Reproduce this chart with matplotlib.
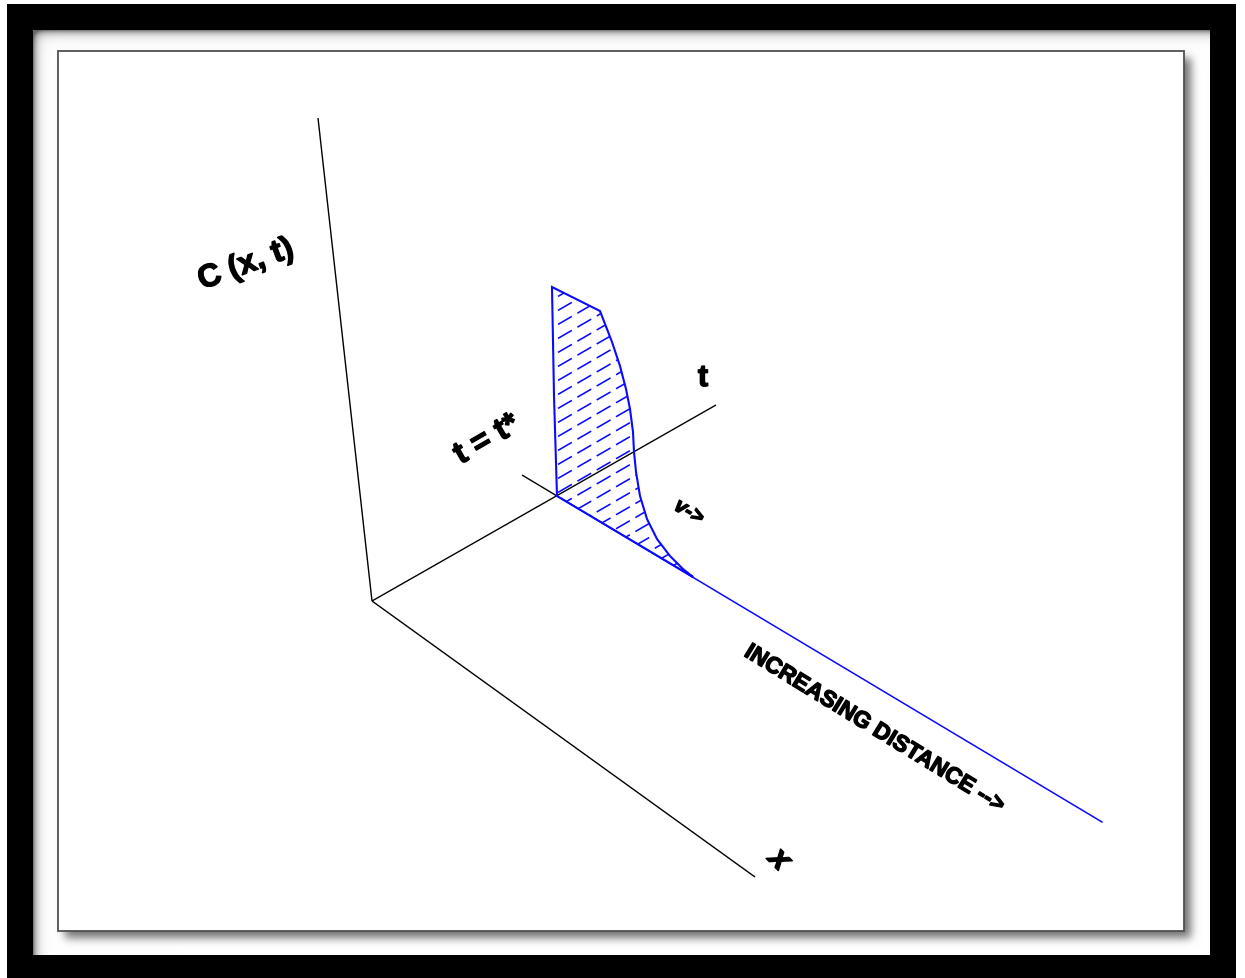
import numpy as np
import matplotlib
matplotlib.use("Agg")
import matplotlib.pyplot as plt
import matplotlib.patheffects as pe
from matplotlib.patches import Polygon, Rectangle

# Canvas size (pixels)
W, H = 1245, 979

# Axes of the sketch (pixel coordinates on the page)
origin = (372, 602)
c_axis_top = (318, 119)
t_axis_end = (716, 406)
x_axis_end = (755, 878)

# Line through the t = t* section: black stub, then the blue base line
section_stub_start = (522, 476)
section_base = (557, 497)
base_line_end = (1102, 823)

# Concentration profile at t = t* (outline of the shaded section)
profile_x = [557, 554, 552, 600, 612, 620, 626, 630, 633, 634, 636, 640, 647, 657, 670, 683, 693]
profile_y = [497, 397, 288, 312, 343, 367, 390, 410, 433, 453, 473, 497, 520, 540, 557, 570, 578]

# Hatching inside the section
hatch_slope = -0.58
hatch_step = 14.0

# Labels
label_c = "C (x, t)"
label_tstar = "t = t*"
label_t = "t"
label_v = "v->"
label_dist = "INCREASING DISTANCE -->"
label_x = "x"

plt.rcParams["font.family"] = ["Liberation Sans", "DejaVu Sans"]

fig = plt.figure(figsize=(W / 100, H / 100), dpi=100)
ax = fig.add_axes([0, 0, 1, 1])
ax.set_xlim(0, W)
ax.set_ylim(H, 0)
ax.axis("off")

# ---- page frame: black mat, inner shadow, panel with drop shadow ----
img = np.ones((H, W, 3))
img[5:, 7:1236] = 0.0
img[31:956, 33:1210] = 1.0
yy, xx = np.mgrid[0:H, 0:W]
inner = (yy >= 31) & (yy < 956) & (xx >= 33) & (xx < 1210)
shade = 0.50 * np.exp(-(xx - 33) / 4.0) + 0.50 * np.exp(-(yy - 31) / 4.0)
shade = np.clip(shade, 0, 0.6)
img[inner] *= (1 - shade[inner])[:, None]

px0, py0, px1, py1 = 58, 52, 1184, 932
mask = np.zeros((H, W))
off = 7
mask[py0 + off:py1 + off, px0 + off:px1 + off] = 1.0
k = np.exp(-0.5 * (np.arange(-12, 13) / 4.5) ** 2)
k /= k.sum()
mask = np.apply_along_axis(lambda r: np.convolve(r, k, mode="same"), 1, mask)
mask = np.apply_along_axis(lambda c: np.convolve(c, k, mode="same"), 0, mask)
img[inner] *= (1 - 0.55 * mask[inner])[:, None]
img[py0:py1, px0:px1] = 1.0
ax.imshow(img, extent=(0, W, H, 0), interpolation="nearest", zorder=0)
ax.add_patch(Rectangle((px0, py0), px1 - px0, py1 - py0, fill=False,
                       edgecolor="#505050", lw=1.3, zorder=1))

# ---- axes of the sketch ----
black = dict(color="black", lw=1.0, zorder=3, solid_capstyle="butt")
ax.plot([c_axis_top[0], origin[0]], [c_axis_top[1], origin[1]], **black)
ax.plot([origin[0], t_axis_end[0]], [origin[1], t_axis_end[1]], **black)
ax.plot([origin[0], x_axis_end[0]], [origin[1], x_axis_end[1]], **black)
ax.plot([section_stub_start[0], section_base[0]],
        [section_stub_start[1], section_base[1]], **black)

blue = "#0a0aff"
ax.plot([section_base[0], base_line_end[0]], [section_base[1], base_line_end[1]],
        color=blue, lw=1.1, zorder=4)

# ---- shaded section ----
pts = np.column_stack([profile_x, profile_y])
sect = Polygon(pts, closed=True, fill=False, edgecolor=blue, lw=1.5, zorder=5,
               joinstyle="miter")
ax.add_patch(sect)
clip = Polygon(pts, closed=True, transform=ax.transData)
xs = np.array([500, 760])
for b in np.arange(250, 700, hatch_step):
    ys = b + hatch_slope * (xs - 557) + (480 - 250) % hatch_step
    ln, = ax.plot(xs, ys, color=blue, lw=1.15, dashes=(10, 4), zorder=4)
    ln.set_clip_path(clip)

# ---- labels ----
heavy = [pe.withStroke(linewidth=1.0, foreground="black")]
txt = dict(fontweight="bold", ha="center", va="center", zorder=6,
           path_effects=heavy)
ax.text(246, 266, label_c, fontsize=23, rotation=20, **txt)
ax.text(487, 441, label_tstar, fontsize=23, rotation=30, **txt)
ax.text(703, 379, label_t, fontsize=22, **txt)
ax.text(689, 513, label_v, fontsize=15, fontstyle="italic", rotation=-30, **txt)
ax.text(874, 729, label_dist, fontsize=16.5, rotation=-31.5, **txt)
ax.text(779, 861, label_x, fontsize=23, fontstyle="italic", rotation=-45, **txt)

fig.savefig("out.png", dpi=100)
